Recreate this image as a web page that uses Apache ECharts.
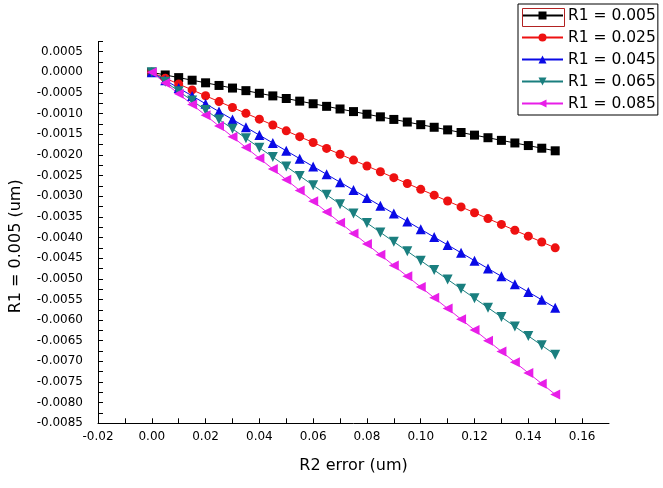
<!DOCTYPE html>
<html>
<head>
<meta charset="utf-8">
<script src="https://cdn.jsdelivr.net/npm/echarts@6/dist/echarts.min.js"></script>
<style>
html,body{margin:0;padding:0;background:#fff;}
#chart{width:663px;height:488px;}
</style>
</head>
<body>
<div id="chart"></div>
<script>
// x values (R2 error, um)
var xValues = [0,0.005,0.01,0.015,0.02,0.025,0.03,0.035,0.04,0.045,0.05,0.055,0.06,0.065,0.07,0.075,0.08,0.085,0.09,0.095,0.1,0.105,0.11,0.115,0.12,0.125,0.13,0.135,0.14,0.145,0.15];

var seriesNames = ['R1 = 0.005','R1 = 0.025','R1 = 0.045','R1 = 0.065','R1 = 0.085'];

var r1_005 = [0,-0.000063,-0.000127,-0.00019,-0.000253,-0.000317,-0.00038,-0.000443,-0.000507,-0.00057,-0.000633,-0.000697,-0.00076,-0.000823,-0.000887,-0.00095,-0.001013,-0.001077,-0.00114,-0.001203,-0.001267,-0.00133,-0.001393,-0.001457,-0.00152,-0.001583,-0.001647,-0.00171,-0.001773,-0.001837,-0.0019];
var r1_025 = [0,-0.000142,-0.000283,-0.000425,-0.000567,-0.000708,-0.00085,-0.000992,-0.001133,-0.001275,-0.001417,-0.001558,-0.0017,-0.001842,-0.001983,-0.002125,-0.002267,-0.002408,-0.00255,-0.002692,-0.002833,-0.002975,-0.003117,-0.003258,-0.0034,-0.003542,-0.003683,-0.003825,-0.003967,-0.004108,-0.00425];
var r1_045 = [0,-0.00019,-0.00038,-0.00057,-0.00076,-0.00095,-0.00114,-0.00133,-0.00152,-0.00171,-0.0019,-0.00209,-0.00228,-0.00247,-0.00266,-0.00285,-0.00304,-0.00323,-0.00342,-0.00361,-0.0038,-0.00399,-0.00418,-0.00437,-0.00456,-0.00475,-0.00494,-0.00513,-0.00532,-0.00551,-0.0057];
var r1_065 = [0,-0.000228,-0.000456,-0.000684,-0.000912,-0.00114,-0.001368,-0.001596,-0.001824,-0.002052,-0.00228,-0.002508,-0.002736,-0.002964,-0.003192,-0.00342,-0.003648,-0.003876,-0.004104,-0.004332,-0.00456,-0.004788,-0.005016,-0.005244,-0.005472,-0.0057,-0.005928,-0.006156,-0.006384,-0.006612,-0.00684];
var r1_085 = [0,-0.00026,-0.00052,-0.00078,-0.00104,-0.0013,-0.00156,-0.00182,-0.00208,-0.00234,-0.0026,-0.00286,-0.00312,-0.00338,-0.00364,-0.0039,-0.00416,-0.00442,-0.00468,-0.00494,-0.0052,-0.00546,-0.00572,-0.00598,-0.00624,-0.0065,-0.00676,-0.00702,-0.00728,-0.00754,-0.0078];

var seriesValues = [r1_005, r1_025, r1_045, r1_065, r1_085];
var colors = ['#000000','#ee1111','#0a0ae6','#1a7f7f','#e81ee8'];
var symbols = ['rect','circle','triangle','triangle','triangle'];
var rotates = [0,0,0,180,90];
var sizes = [9,9,10,10,10];

function pairs(ys){ return xValues.map(function(x,i){ return [x, ys[i]]; }); }

var FONT = 'DejaVu Sans';
var series = seriesNames.map(function(n,k){
  return {
    name: n, type: 'line', data: pairs(seriesValues[k]),
    symbol: symbols[k], symbolRotate: rotates[k], symbolSize: sizes[k],
    showAllSymbol: true,
    itemStyle: {color: colors[k], opacity: 1},
    lineStyle: {color: k === 0 ? '#000' : colors[k], width: 1},
    animation: false
  };
});

var chart = echarts.init(document.getElementById('chart'));
chart.setOption({
  backgroundColor: '#ffffff',
  animation: false,
  grid: {left: 97, right: 54, top: 41.4, bottom: 64.7, containLabel: false},
  legend: {
    orient: 'vertical', left: 518, top: 4,
    padding: [3, 2, 3, 3],
    itemWidth: 41, itemHeight: 10, itemGap: 5,
    borderColor: '#000', borderWidth: 1,
    textStyle: {fontFamily: FONT, fontSize: 15.5, color: '#000', lineHeight: 17},
    data: seriesNames
  },
  xAxis: {
    type: 'value', min: -0.02, max: 0.17, interval: 0.01,
    name: 'R2 error (um)', nameLocation: 'middle', nameGap: 35,
    nameTextStyle: {fontFamily: FONT, fontSize: 16, color: '#000'},
    axisLine: {show: true, onZero: false, lineStyle: {color: '#000', width: 1}},
    axisTick: {show: true, inside: true, length: 5, lineStyle: {color: '#000'}},
    splitLine: {show: false},
    axisLabel: {
      fontFamily: FONT, fontSize: 12, color: '#000', margin: 8,
      showMaxLabel: false,
      formatter: function(v){ var k = Math.round(v/0.01); return (k % 2 === 0) ? v.toFixed(2) : ''; }
    }
  },
  yAxis: {
    type: 'value', min: -0.0085, max: 0.00075, interval: 0.00025,
    name: 'R1 = 0.005 (um)', nameLocation: 'middle', nameGap: 74, nameRotate: 90,
    nameTextStyle: {fontFamily: FONT, fontSize: 16, color: '#000', padding: [0, 28, 0, 0]},
    axisLine: {show: true, onZero: false, lineStyle: {color: '#000', width: 1}},
    axisTick: {show: true, inside: true, length: 5, lineStyle: {color: '#000'}},
    splitLine: {show: false},
    axisLabel: {
      fontFamily: FONT, fontSize: 12, color: '#000', margin: 15,
      formatter: function(v){ var k = Math.round(v/0.00025); if (k % 2 !== 0) return ''; var s = (k*0.00025).toFixed(4); return s === '-0.0000' ? '0.0000' : s; }
    }
  },
  graphic: [{
    type: 'rect', left: 520, top: 6, z: 100, silent: true,
    shape: {width: 42, height: 18},
    style: {fill: 'none', stroke: '#b22222', lineWidth: 1}
  }],
  series: series
});
</script>
</body>
</html>
